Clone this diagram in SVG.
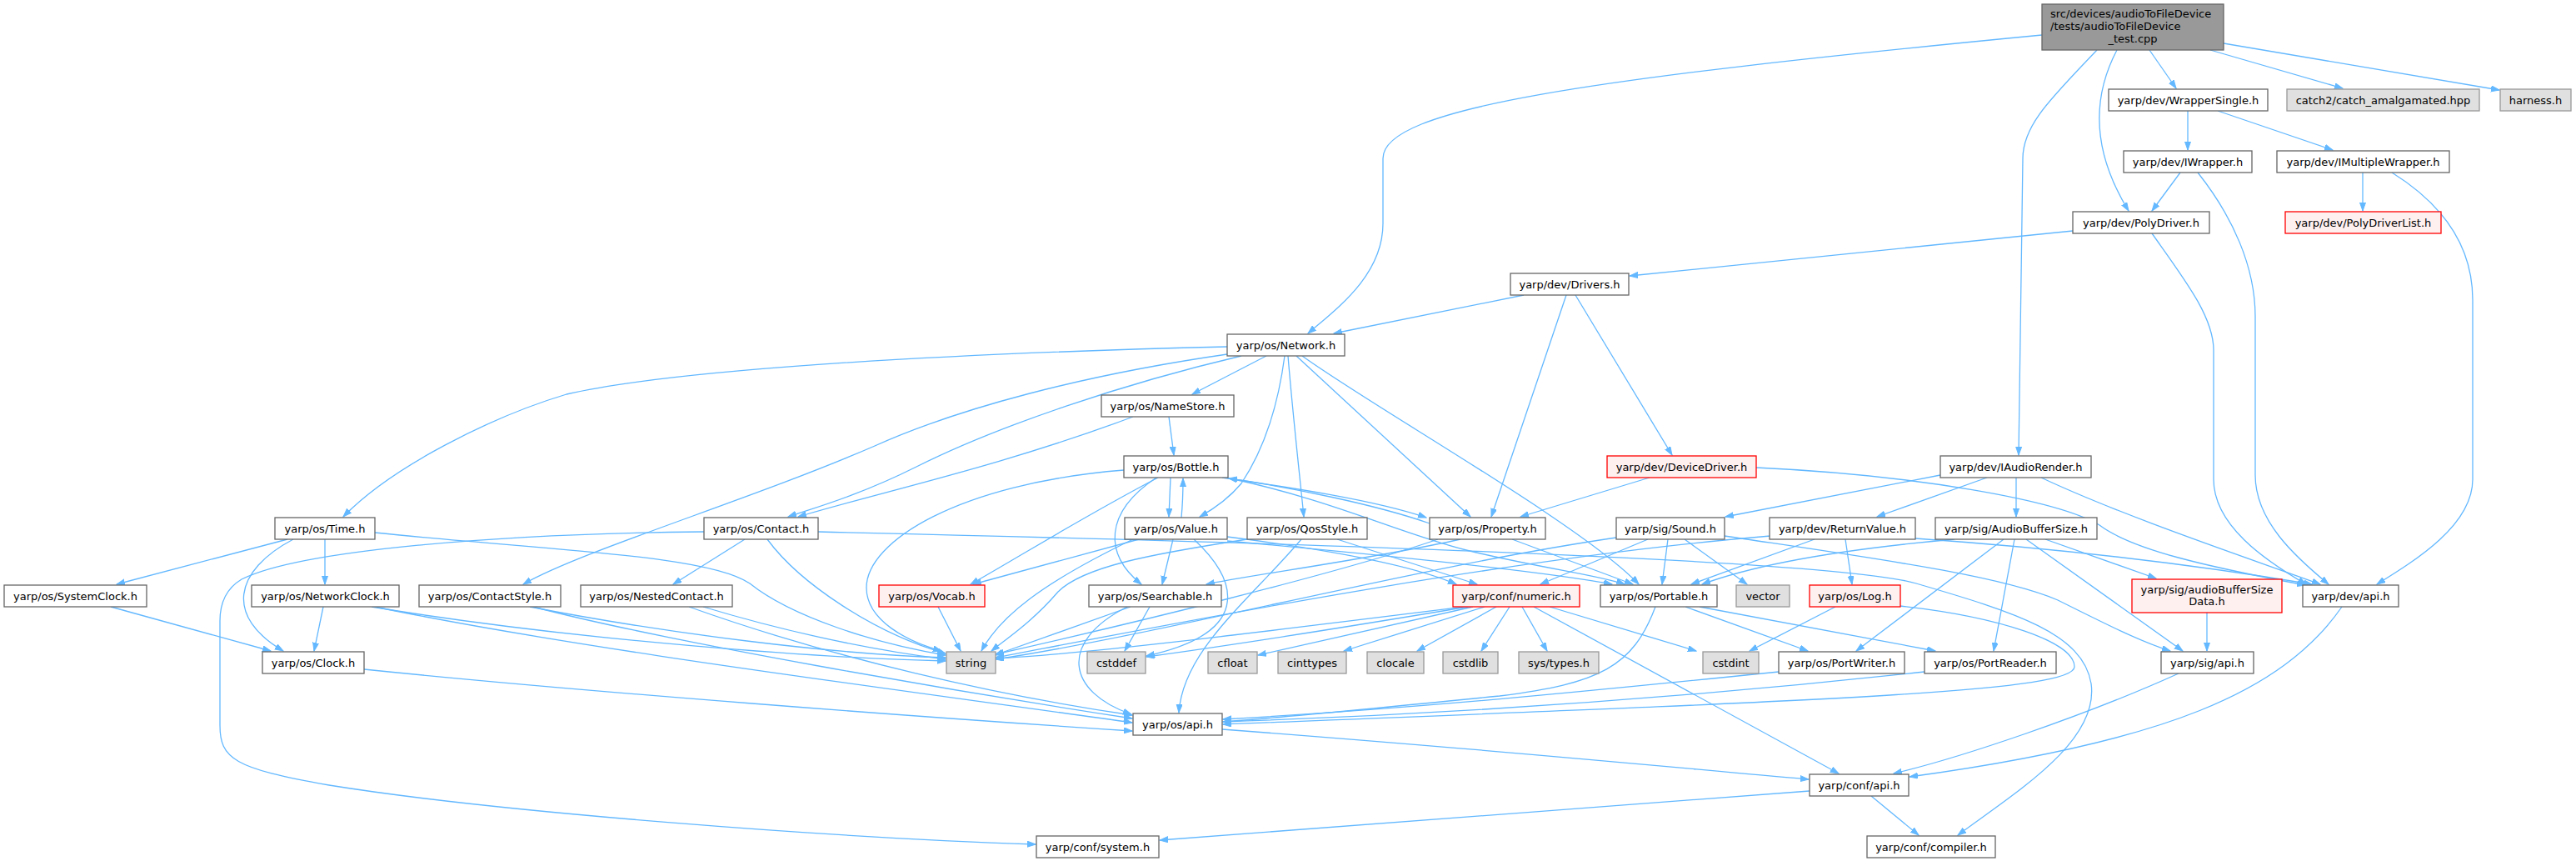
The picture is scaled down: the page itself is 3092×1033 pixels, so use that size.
<svg xmlns="http://www.w3.org/2000/svg" width="3092" height="1033" viewBox="0 0 3092 1033">
<defs>
<style>
.n rect{fill:#ffffff;stroke:#666666;stroke-width:1.3}
.g rect{fill:#e0e0e0;stroke:#999999;stroke-width:1.3}
.r rect{fill:#fff0f0;stroke:#ff0000;stroke-width:1.3}
.m rect{fill:#999999;stroke:#666666;stroke-width:1.3}
text{font-family:"DejaVu Sans","Liberation Sans",sans-serif;font-size:13px;text-anchor:middle;fill:#000000}
text.s{text-anchor:start}
#edges path{fill:none;stroke:#63b8ff;stroke-width:1.3;marker-end:url(#arr)}
</style>
<marker id="arr" markerWidth="11" markerHeight="8" refX="10" refY="3.75" orient="auto" markerUnits="userSpaceOnUse">
<path d="M0,0.25 L10,3.75 L0,7.25 z" fill="#63b8ff" stroke="#63b8ff" stroke-width="1"/>
</marker>
</defs>
<rect x="0" y="0" width="3092" height="1033" fill="#ffffff"/>
<g id="edges">
<path d="M2451,42 C1900,95 1660,130 1660,190 L1660,268 C1660,330 1605,370 1570,400"/>
<path d="M2517,60 C2462,118 2428,150 2428,190 L2423,546"/>
<path d="M2541,60 C2512,115 2510,180 2555,253"/>
<path d="M2580,60 L2612,106"/>
<path d="M2653,60 L2812,106"/>
<path d="M2669,52 L3000,108"/>
<path d="M2626,133 L2626,180"/>
<path d="M2662,133 L2800,180"/>
<path d="M2617,207 L2583,253"/>
<path d="M2638,207 C2680,260 2707,320 2707,380 L2707,570 C2707,625 2755,668 2795,701"/>
<path d="M2836,207 L2836,253"/>
<path d="M2871,207 C2932,245 2968,295 2968,360 L2968,575 C2968,630 2900,672 2853,701"/>
<path d="M2488,277 L1956,331"/>
<path d="M2583,280 C2622,335 2657,380 2657,420 L2657,575 C2657,630 2718,672 2768,701"/>
<path d="M1829,354 L1601,400"/>
<path d="M1880,354 L1790,620"/>
<path d="M1891,354 L2007,546"/>
<path d="M1473,416 C1100,425 800,445 680,473 C590,500 470,560 412,620"/>
<path d="M1473,425 C1300,450 1150,490 1050,535 C900,600 700,660 628,701"/>
<path d="M1490,427 C1350,460 1200,510 1100,560 C1030,595 975,610 946,620"/>
<path d="M1360,500 C1200,560 1050,592 958,620"/>
<path d="M1520,427 L1431,473"/>
<path d="M1542,427 C1535,480 1520,535 1490,580 C1475,598 1458,610 1440,620"/>
<path d="M1546,427 C1552,500 1560,570 1565,620"/>
<path d="M1556,427 L1765,620"/>
<path d="M1563,427 C1650,490 1900,630 1967,701"/>
<path d="M1403,500 L1409,546"/>
<path d="M345,647 L140,701"/>
<path d="M352,647 C280,685 270,740 340,781"/>
<path d="M390,647 L390,701"/>
<path d="M450,639 C650,660 850,665 900,700 C950,740 1050,772 1135,786"/>
<path d="M133,728 L325,781"/>
<path d="M388,728 L377,781"/>
<path d="M446,728 C700,770 1000,790 1135,793"/>
<path d="M450,728 C700,780 1100,830 1359,867"/>
<path d="M437,803 C700,830 1100,860 1359,877"/>
<path d="M636,728 C800,760 1000,785 1135,789"/>
<path d="M640,728 C800,770 1150,830 1359,862"/>
<path d="M894,647 L808,701"/>
<path d="M921,647 C960,700 1050,760 1135,784"/>
<path d="M845,638 C600,640 360,660 290,695 C270,707 264,725 264,745 L264,870 C264,910 280,922 395,942 C600,975 1000,1005 1243,1013"/>
<path d="M982,638 C1500,650 2200,670 2300,700 C2420,735 2500,760 2510,820 C2520,890 2420,950 2350,1002"/>
<path d="M844,728 C950,760 1050,780 1135,791"/>
<path d="M827,728 C1000,790 1200,835 1359,858"/>
<path d="M1126,728 L1153,781"/>
<path d="M1349,564 C1150,580 1040,650 1040,705 C1040,745 1090,770 1130,781"/>
<path d="M1390,573 C1300,620 1220,670 1165,701"/>
<path d="M1388,573 C1325,615 1325,665 1370,701"/>
<path d="M1405,573 L1403,620"/>
<path d="M1418,621 C1420,600 1420,590 1420,574"/>
<path d="M1467,573 C1550,585 1650,600 1712,621"/>
<path d="M1716,628 C1650,605 1550,585 1475,574"/>
<path d="M1472,573 C1600,600 1680,640 1760,660 C1850,682 1920,690 1950,701"/>
<path d="M1360,647 C1250,700 1200,740 1178,781"/>
<path d="M1367,647 L1168,701"/>
<path d="M1408,647 L1395,701"/>
<path d="M1433,647 C1490,700 1500,760 1376,787"/>
<path d="M1473,644 C1600,660 1700,680 1748,701"/>
<path d="M1473,649 C1650,665 1850,685 1935,701"/>
<path d="M1497,647 C1380,665 1300,680 1270,710 C1240,745 1210,765 1190,781"/>
<path d="M1562,647 C1500,720 1420,780 1415,855"/>
<path d="M1605,647 L1773,701"/>
<path d="M1357,728 L1194,786"/>
<path d="M1380,728 L1350,781"/>
<path d="M1353,728 C1270,770 1280,830 1358,857"/>
<path d="M1753,647 C1650,670 1500,690 1448,701"/>
<path d="M1726,647 C1600,690 1350,750 1195,785"/>
<path d="M1815,647 L1960,701"/>
<path d="M1980,573 L1825,620"/>
<path d="M2108,561 C2300,570 2470,600 2520,630 C2560,660 2650,680 2767,702"/>
<path d="M2329,570 L2071,620"/>
<path d="M2385,573 L2253,620"/>
<path d="M2420,573 L2420,620"/>
<path d="M2450,573 C2550,620 2700,670 2785,701"/>
<path d="M1940,645 C1700,680 1400,760 1195,791"/>
<path d="M1978,647 L1849,701"/>
<path d="M2002,647 L1995,701"/>
<path d="M2022,647 L2097,701"/>
<path d="M2070,643 C2250,670 2400,690 2470,720 C2530,750 2570,770 2605,781"/>
<path d="M2125,643 C1800,670 1400,750 1195,789"/>
<path d="M2178,647 L2030,701"/>
<path d="M2215,647 L2223,701"/>
<path d="M2299,646 C2500,660 2650,680 2775,701"/>
<path d="M2346,647 C2200,660 2100,680 2043,701"/>
<path d="M2405,647 L2228,781"/>
<path d="M2418,647 L2393,781"/>
<path d="M2432,647 L2620,781"/>
<path d="M2455,647 L2588,694"/>
<path d="M2649,735 L2649,781"/>
<path d="M1758,728 C1500,760 1300,785 1195,790"/>
<path d="M1762,728 C1600,755 1450,778 1376,788"/>
<path d="M1768,728 L1510,786"/>
<path d="M1782,728 L1613,781"/>
<path d="M1796,728 L1701,781"/>
<path d="M1812,728 L1778,781"/>
<path d="M1827,728 L1857,781"/>
<path d="M1860,728 L2036,781"/>
<path d="M1841,728 L2207,928"/>
<path d="M1987,728 C1960,800 1920,820 1800,835 C1650,850 1550,860 1468,866"/>
<path d="M2023,728 L2170,781"/>
<path d="M2040,728 L2323,781"/>
<path d="M2203,728 L2100,781"/>
<path d="M2281,727 C2400,740 2490,770 2490,800 C2490,830 2200,840 1468,869"/>
<path d="M2135,806 C1900,830 1700,850 1468,863"/>
<path d="M2310,806 C2000,840 1700,858 1468,866"/>
<path d="M2615,808 C2500,860 2350,910 2273,928"/>
<path d="M2811,728 C2740,830 2600,890 2292,932"/>
<path d="M1467,875 C1800,900 2000,920 2171,935"/>
<path d="M2246,955 L2303,1002"/>
<path d="M2172,949 L1392,1008"/>
</g>
<g id="node-main" class="m"><rect x="2451" y="5" width="218" height="55"/><text class="s" x="2461" y="21">src/devices/audioToFileDevice</text><text class="s" x="2461" y="36">/tests/audioToFileDevice</text><text x="2560" y="51">_test.cpp</text></g>
<g id="node-wrappersingle" class="n"><rect x="2531" y="107" width="191" height="26"/><text x="2626.5" y="124.5">yarp/dev/WrapperSingle.h</text></g>
<g id="node-catch2" class="g"><rect x="2745" y="107" width="231" height="26"/><text x="2860.5" y="124.5">catch2/catch_amalgamated.hpp</text></g>
<g id="node-harness" class="g"><rect x="3001" y="107" width="85" height="26"/><text x="3043.5" y="124.5">harness.h</text></g>
<g id="node-iwrapper" class="n"><rect x="2549" y="181" width="154" height="26"/><text x="2626" y="198.5">yarp/dev/IWrapper.h</text></g>
<g id="node-imultiplewrapper" class="n"><rect x="2733" y="181" width="207" height="26"/><text x="2836.5" y="198.5">yarp/dev/IMultipleWrapper.h</text></g>
<g id="node-polydriver" class="n"><rect x="2488" y="254" width="164" height="26"/><text x="2570" y="271.5">yarp/dev/PolyDriver.h</text></g>
<g id="node-polydriverlist" class="r"><rect x="2743" y="254" width="187" height="26"/><text x="2836.5" y="271.5">yarp/dev/PolyDriverList.h</text></g>
<g id="node-drivers" class="n"><rect x="1813" y="328" width="142" height="26"/><text x="1884" y="345.5">yarp/dev/Drivers.h</text></g>
<g id="node-network" class="n"><rect x="1473" y="401" width="141" height="26"/><text x="1543.5" y="418.5">yarp/os/Network.h</text></g>
<g id="node-namestore" class="n"><rect x="1322" y="474" width="159" height="26"/><text x="1401.5" y="491.5">yarp/os/NameStore.h</text></g>
<g id="node-bottle" class="n"><rect x="1349" y="547" width="125" height="26"/><text x="1411.5" y="564.5">yarp/os/Bottle.h</text></g>
<g id="node-devicedriver" class="r"><rect x="1929" y="547" width="179" height="26"/><text x="2018.5" y="564.5">yarp/dev/DeviceDriver.h</text></g>
<g id="node-iaudiorender" class="n"><rect x="2329" y="547" width="181" height="26"/><text x="2419.5" y="564.5">yarp/dev/IAudioRender.h</text></g>
<g id="node-time" class="n"><rect x="330" y="621" width="120" height="26"/><text x="390" y="638.5">yarp/os/Time.h</text></g>
<g id="node-contact" class="n"><rect x="845" y="621" width="137" height="26"/><text x="913.5" y="638.5">yarp/os/Contact.h</text></g>
<g id="node-value" class="n"><rect x="1350" y="621" width="123" height="26"/><text x="1411.5" y="638.5">yarp/os/Value.h</text></g>
<g id="node-qosstyle" class="n"><rect x="1497" y="621" width="144" height="26"/><text x="1569" y="638.5">yarp/os/QosStyle.h</text></g>
<g id="node-property" class="n"><rect x="1716" y="621" width="139" height="26"/><text x="1785.5" y="638.5">yarp/os/Property.h</text></g>
<g id="node-sound" class="n"><rect x="1940" y="621" width="130" height="26"/><text x="2005" y="638.5">yarp/sig/Sound.h</text></g>
<g id="node-returnvalue" class="n"><rect x="2124" y="621" width="175" height="26"/><text x="2211.5" y="638.5">yarp/dev/ReturnValue.h</text></g>
<g id="node-audiobuffersize" class="n"><rect x="2323" y="621" width="194" height="26"/><text x="2420" y="638.5">yarp/sig/AudioBufferSize.h</text></g>
<g id="node-systemclock" class="n"><rect x="5" y="702" width="171" height="26"/><text x="90.5" y="719.5">yarp/os/SystemClock.h</text></g>
<g id="node-networkclock" class="n"><rect x="302" y="702" width="177" height="26"/><text x="390.5" y="719.5">yarp/os/NetworkClock.h</text></g>
<g id="node-contactstyle" class="n"><rect x="503" y="702" width="170" height="26"/><text x="588" y="719.5">yarp/os/ContactStyle.h</text></g>
<g id="node-nestedcontact" class="n"><rect x="697" y="702" width="182" height="26"/><text x="788" y="719.5">yarp/os/NestedContact.h</text></g>
<g id="node-vocab" class="r"><rect x="1055" y="702" width="127" height="26"/><text x="1118.5" y="719.5">yarp/os/Vocab.h</text></g>
<g id="node-searchable" class="n"><rect x="1307" y="702" width="159" height="26"/><text x="1386.5" y="719.5">yarp/os/Searchable.h</text></g>
<g id="node-numeric" class="r"><rect x="1744" y="702" width="152" height="26"/><text x="1820" y="719.5">yarp/conf/numeric.h</text></g>
<g id="node-portable" class="n"><rect x="1921" y="702" width="140" height="26"/><text x="1991" y="719.5">yarp/os/Portable.h</text></g>
<g id="node-vector" class="g"><rect x="2084" y="702" width="64" height="26"/><text x="2116" y="719.5">vector</text></g>
<g id="node-log" class="r"><rect x="2172" y="702" width="109" height="26"/><text x="2226.5" y="719.5">yarp/os/Log.h</text></g>
<g id="node-audiobuffersizedata" class="r"><rect x="2559" y="695" width="180" height="40"/><text x="2649" y="711.5">yarp/sig/audioBufferSize</text><text x="2649" y="725.5">Data.h</text></g>
<g id="node-devapi" class="n"><rect x="2764" y="702" width="115" height="26"/><text x="2821.5" y="719.5">yarp/dev/api.h</text></g>
<g id="node-clock" class="n"><rect x="315" y="782" width="122" height="26"/><text x="376" y="799.5">yarp/os/Clock.h</text></g>
<g id="node-string" class="g"><rect x="1136" y="782" width="59" height="26"/><text x="1165.5" y="799.5">string</text></g>
<g id="node-cstddef" class="g"><rect x="1305" y="782" width="70" height="26"/><text x="1340" y="799.5">cstddef</text></g>
<g id="node-cfloat" class="g"><rect x="1450" y="782" width="59" height="26"/><text x="1479.5" y="799.5">cfloat</text></g>
<g id="node-cinttypes" class="g"><rect x="1534" y="782" width="82" height="26"/><text x="1575" y="799.5">cinttypes</text></g>
<g id="node-clocale" class="g"><rect x="1641" y="782" width="68" height="26"/><text x="1675" y="799.5">clocale</text></g>
<g id="node-cstdlib" class="g"><rect x="1732" y="782" width="66" height="26"/><text x="1765" y="799.5">cstdlib</text></g>
<g id="node-systypes" class="g"><rect x="1823" y="782" width="96" height="26"/><text x="1871" y="799.5">sys/types.h</text></g>
<g id="node-cstdint" class="g"><rect x="2044" y="782" width="67" height="26"/><text x="2077.5" y="799.5">cstdint</text></g>
<g id="node-portwriter" class="n"><rect x="2135" y="782" width="151" height="26"/><text x="2210.5" y="799.5">yarp/os/PortWriter.h</text></g>
<g id="node-portreader" class="n"><rect x="2310" y="782" width="158" height="26"/><text x="2389" y="799.5">yarp/os/PortReader.h</text></g>
<g id="node-sigapi" class="n"><rect x="2594" y="782" width="111" height="26"/><text x="2649.5" y="799.5">yarp/sig/api.h</text></g>
<g id="node-osapi" class="n"><rect x="1360" y="856" width="107" height="26"/><text x="1413.5" y="873.5">yarp/os/api.h</text></g>
<g id="node-confapi" class="n"><rect x="2172" y="929" width="119" height="26"/><text x="2231.5" y="946.5">yarp/conf/api.h</text></g>
<g id="node-confsystem" class="n"><rect x="1244" y="1003" width="147" height="26"/><text x="1317.5" y="1020.5">yarp/conf/system.h</text></g>
<g id="node-confcompiler" class="n"><rect x="2241" y="1003" width="154" height="26"/><text x="2318" y="1020.5">yarp/conf/compiler.h</text></g>
</svg>
